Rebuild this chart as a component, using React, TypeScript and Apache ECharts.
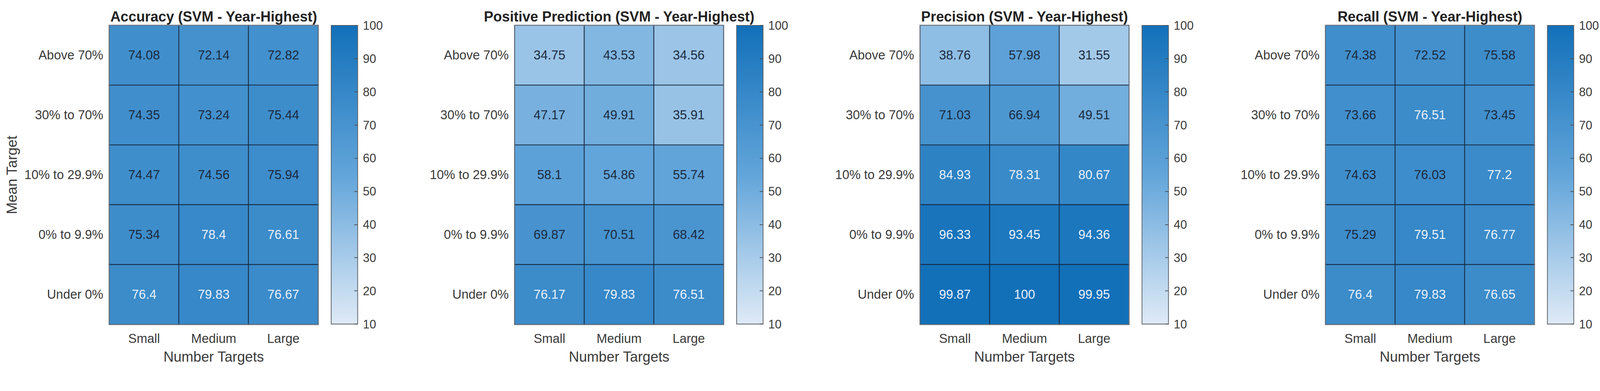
import React, { useEffect, useRef } from 'react';
import * as echarts from 'echarts';

// ---------- data ----------
const numberTargets = ['Small', 'Medium', 'Large'];
const meanTargets = ['Above 70%', '30% to 70%', '10% to 29.9%', '0% to 9.9%', 'Under 0%'];

const colorMin = 10;
const colorMax = 100;
const colorInterval = 10;

// rows follow meanTargets (top to bottom), columns follow numberTargets
const accuracy = [
  [74.08, 72.14, 72.82],
  [74.35, 73.24, 75.44],
  [74.47, 74.56, 75.94],
  [75.34, 78.4, 76.61],
  [76.4, 79.83, 76.67],
];
const positivePrediction = [
  [34.75, 43.53, 34.56],
  [47.17, 49.91, 35.91],
  [58.1, 54.86, 55.74],
  [69.87, 70.51, 68.42],
  [76.17, 79.83, 76.51],
];
const precision = [
  [38.76, 57.98, 31.55],
  [71.03, 66.94, 49.51],
  [84.93, 78.31, 80.67],
  [96.33, 93.45, 94.36],
  [99.87, 100, 99.95],
];
const recall = [
  [74.38, 72.52, 75.58],
  [73.66, 76.51, 73.45],
  [74.63, 76.03, 77.2],
  [75.29, 79.51, 76.77],
  [76.4, 79.83, 76.65],
];

const panelTitles = [
  'Accuracy (SVM - Year-Highest)',
  'Positive Prediction (SVM - Year-Highest)',
  'Precision (SVM - Year-Highest)',
  'Recall (SVM - Year-Highest)',
];
const xAxisTitle = 'Number Targets';
const yAxisTitle = 'Mean Target';

// ---------- style ----------
const FONT = "'Liberation Sans', Arial, Helvetica, sans-serif";
const LIGHT = '#dfeaf6';
const MID = '#62a5da';
const DARK = '#1270b9';
const TEXT_DARK = '#1b2a3e';
const TEXT_LIGHT = '#e8f1fb';
const LABEL_COLOR = '#3a3a3a';
const LIGHT_TEXT_FROM = 76.1;

const DESIGN_W = 4290;
const DESIGN_H = 1000;
const PITCH = 1087;
const HM_LEFT0 = 293;
const HM_TOP = 68;
const HM_W = 560;
const HM_H = 801;
const CB_OFFSET = 595;
const CB_W = 71;
const CB_H = 800;

function buildOption() {
  const panels = [accuracy, positivePrediction, precision, recall];
  const grid: any[] = [];
  const xAxis: any[] = [];
  const yAxis: any[] = [];
  const series: any[] = [];
  const visualMap: any[] = [];
  const title: any[] = [];

  panels.forEach((matrix, i) => {
    const left = HM_LEFT0 + PITCH * i;
    grid.push({
      left,
      top: HM_TOP,
      width: HM_W,
      height: HM_H,
      show: true,
      borderColor: '#6d7884',
      borderWidth: 2,
      backgroundColor: 'transparent',
      z: 10,
    });
    title.push({
      text: panelTitles[i],
      left: left + HM_W / 2,
      top: 25,
      padding: 0,
      textAlign: 'center',
      textStyle: { fontFamily: FONT, fontSize: 38, fontWeight: 'bold', color: '#232323' },
    });
    xAxis.push({
      type: 'category',
      gridIndex: i,
      data: numberTargets,
      position: 'bottom',
      axisLine: { show: false },
      axisTick: { show: false },
      splitLine: { show: false },
      axisLabel: { fontFamily: FONT, fontSize: 34, color: LABEL_COLOR, margin: 21 },
      name: xAxisTitle,
      nameLocation: 'middle',
      nameGap: 68,
      nameTextStyle: { fontFamily: FONT, fontSize: 38, color: LABEL_COLOR },
    });
    yAxis.push({
      type: 'category',
      gridIndex: i,
      data: meanTargets,
      inverse: true,
      axisLine: { show: false },
      axisTick: { show: false },
      splitLine: { show: false },
      axisLabel: { fontFamily: FONT, fontSize: 34, color: LABEL_COLOR, margin: 16 },
      ...(i === 0
        ? {
            name: yAxisTitle,
            nameLocation: 'middle',
            nameRotate: 90,
            nameGap: 242,
            nameTextStyle: { fontFamily: FONT, fontSize: 38, color: LABEL_COLOR },
          }
        : {}),
    });
    const data: any[] = [];
    matrix.forEach((row, r) => {
      row.forEach((v, c) => {
        data.push({
          value: [c, r, v],
          label: { color: v >= LIGHT_TEXT_FROM ? TEXT_LIGHT : TEXT_DARK },
        });
      });
    });
    series.push({
      type: 'heatmap',
      xAxisIndex: i,
      yAxisIndex: i,
      data,
      label: {
        show: true,
        fontFamily: FONT,
        fontSize: 34,
        formatter: (p: any) => String(p.value[2]),
      },
      itemStyle: { borderColor: 'rgba(22,40,62,0.85)', borderWidth: 2.5 },
      emphasis: { disabled: true },
    });
    visualMap.push({
      type: 'continuous',
      show: false,
      seriesIndex: i,
      dimension: 2,
      min: colorMin,
      max: colorMax,
      inRange: { color: [LIGHT, MID, DARK] },
    });
  });

  // colorbars
  panels.forEach((_, i) => {
    const g = 4 + i;
    grid.push({
      left: HM_LEFT0 + PITCH * i + CB_OFFSET,
      top: HM_TOP,
      width: CB_W,
      height: CB_H,
      show: true,
      borderColor: '#5a5f66',
      borderWidth: 2,
      backgroundColor: 'transparent',
      z: 10,
    });
    xAxis.push({
      type: 'category',
      gridIndex: g,
      data: ['colorbar'],
      show: false,
    });
    yAxis.push({
      type: 'value',
      gridIndex: g,
      position: 'right',
      min: colorMin,
      max: colorMax,
      interval: colorInterval,
      axisLine: { show: false },
      axisTick: { show: true, inside: true, length: 9, lineStyle: { color: '#4a4f56', width: 2 } },
      splitLine: { show: false },
      axisLabel: { fontFamily: FONT, fontSize: 32, color: LABEL_COLOR, margin: 14 },
      z: 10,
    });
    series.push({
      type: 'bar',
      xAxisIndex: g,
      yAxisIndex: g,
      stack: 'cb' + i,
      data: [colorMin],
      barWidth: '100%',
      itemStyle: { color: 'transparent' },
      silent: true,
    });
    series.push({
      type: 'bar',
      xAxisIndex: g,
      yAxisIndex: g,
      stack: 'cb' + i,
      data: [colorMax - colorMin],
      barWidth: '100%',
      itemStyle: {
        color: new echarts.graphic.LinearGradient(0, 0, 0, 1, [
          { offset: 0, color: DARK },
          { offset: 0.5, color: MID },
          { offset: 1, color: LIGHT },
        ]),
      },
      silent: true,
    });
  });

  return {
    animation: false,
    backgroundColor: '#ffffff',
    title,
    grid,
    xAxis,
    yAxis,
    visualMap,
    series,
  };
}

export default function App() {
  const ref = useRef<HTMLDivElement>(null);
  const scale =
    typeof window !== 'undefined' && window.innerWidth > 0 ? window.innerWidth / DESIGN_W : 1;
  useEffect(() => {
    if (!ref.current) return;
    const chart = echarts.init(ref.current, null, { renderer: 'svg' });
    chart.setOption(buildOption() as any);
    return () => chart.dispose();
  }, []);
  return (
    <div
      ref={ref}
      style={{
        position: 'absolute',
        left: 0,
        top: 0,
        width: DESIGN_W,
        height: DESIGN_H,
        transform: `scale(${scale})`,
        transformOrigin: '0 0',
      }}
    />
  );
}
